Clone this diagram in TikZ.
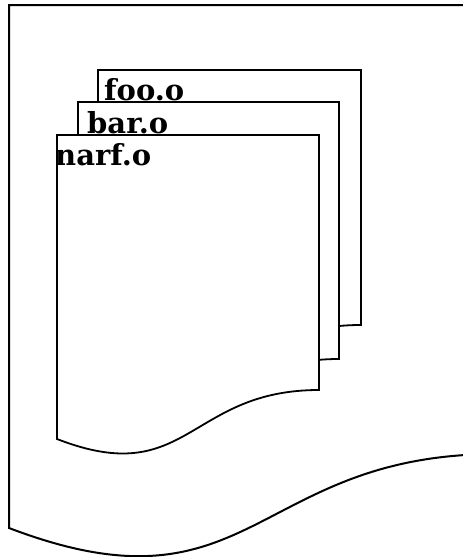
\documentclass[tikz,border=0pt]{standalone}
\usepackage{fontspec}
\setmainfont{DejaVu Serif}
\begin{document}
\begin{tikzpicture}[x=1pt,y=-1pt,
  outerline/.style={draw=black,line width=2pt,fill=white,line join=miter},
  pageline/.style={draw=black,line width=1.8pt,fill=white,line join=miter},
  lbl/.style={font=\bfseries\fontsize{29}{29}\selectfont,anchor=base west,inner sep=0pt}]
\useasboundingbox (0,0) rectangle (463,557);
\begin{scope}
\clip (0,0) rectangle (463,557);
\draw[outerline] (9,5) -- (497,5) -- (497,454)
  .. controls (253,454) and (253,621) .. (9,528) -- cycle;
\end{scope}
% foo.o
\draw[pageline] (98,70) -- (361,70) -- (361,325)
  .. controls (229.5,325) and (229.5,425) .. (98,374) -- cycle;
\node[lbl] (foo) at (104,100) {foo.o};
% bar.o
\draw[pageline] (78,102) -- (339,102) -- (339,359)
  .. controls (208.5,359) and (208.5,459) .. (78,408) -- cycle;
\node[lbl] (bar) at (87,133) {bar.o};
% narf.o
\draw[pageline] (57,135) -- (319,135) -- (319,390)
  .. controls (188,390) and (188,490) .. (57,439) -- cycle;
\node[lbl] (narf) at (55,165) {narf.o};
\end{tikzpicture}
\end{document}
